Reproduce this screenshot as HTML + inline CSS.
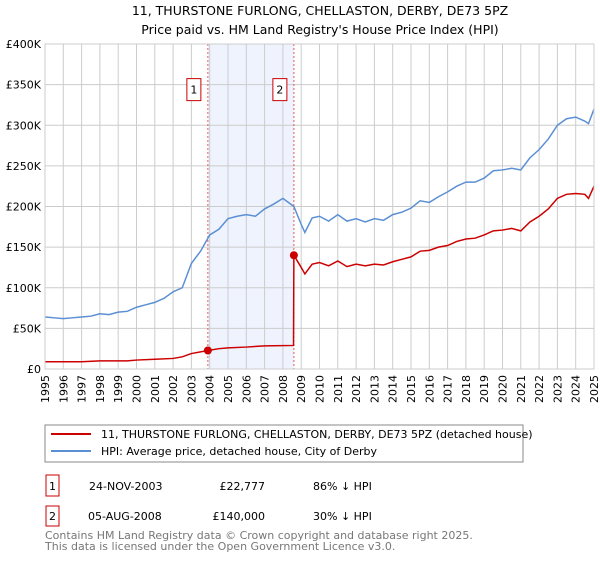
<!DOCTYPE html>
<html><head><meta charset="utf-8"><style>
body{margin:0;background:#fff;font-family:"Liberation Sans","DejaVu Sans",sans-serif;}
svg text{font-family:"DejaVu Sans","Liberation Sans",sans-serif;}
</style></head><body>
<svg id="chart" width="600" height="560" xmlns="http://www.w3.org/2000/svg">
<text x="320" y="15" text-anchor="middle" font-size="12.5">11, THURSTONE FURLONG, CHELLASTON, DERBY, DE73 5PZ</text>
<text x="320" y="34" text-anchor="middle" font-size="12.5">Price paid vs. HM Land Registry's House Price Index (HPI)</text>
<g id="grid"></g><g id="marks"></g>
<g>
<rect x="45" y="425" width="478" height="37" fill="#fff" stroke="#888"/>
<line x1="51" y1="434" x2="91" y2="434" stroke="#cc0000" stroke-width="2"/>
<text x="101" y="438" font-size="11">11, THURSTONE FURLONG, CHELLASTON, DERBY, DE73 5PZ (detached house)</text>
<line x1="51" y1="451" x2="91" y2="451" stroke="#5b8fd4" stroke-width="2"/>
<text x="101" y="455" font-size="11">HPI: Average price, detached house, City of Derby</text>
</g>
<g font-size="11">
<rect x="46" y="475" width="13" height="21" fill="#fff" stroke="#cc0000"/><text x="52.5" y="490" text-anchor="middle">1</text>
<text x="89" y="490">24-NOV-2003</text><text x="265" y="490" text-anchor="end">£22,777</text><text x="313" y="490">86% ↓ HPI</text>
<rect x="46" y="506" width="13" height="20" fill="#fff" stroke="#cc0000"/><text x="52.5" y="520" text-anchor="middle">2</text>
<text x="88" y="520">05-AUG-2008</text><text x="265" y="520" text-anchor="end">£140,000</text><text x="313" y="520">30% ↓ HPI</text>
</g>
<text x="45" y="539" font-size="11" fill="#777">Contains HM Land Registry data © Crown copyright and database right 2025.</text>
<text x="45" y="550" font-size="11" fill="#777">This data is licensed under the Open Government Licence v3.0.</text>
</svg>
<script>
const hpiYears=[1995,1995.5,1996,1996.5,1997,1997.5,1998,1998.5,1999,1999.5,2000,2000.5,2001,2001.5,2002,2002.5,2003,2003.5,2004,2004.5,2005,2005.5,2006,2006.5,2007,2007.5,2008,2008.6,2009,2009.2,2009.6,2010,2010.5,2011,2011.5,2012,2012.5,2013,2013.5,2014,2014.5,2015,2015.5,2016,2016.5,2017,2017.5,2018,2018.5,2019,2019.5,2020,2020.5,2021,2021.5,2022,2022.5,2023,2023.5,2024,2024.5,2024.7,2025];
const hpiValues=[64,63,62,63,64,65,68,67,70,71,76,79,82,87,95,100,130,145,165,172,185,188,190,188,197,203,210,200,178,168,186,188,182,190,182,185,181,185,183,190,193,198,207,205,212,218,225,230,230,235,244,245,247,245,260,270,283,300,308,310,305,302,320];
const ppYears=[1995,1997,1998,1999.5,2000,2001,2002,2002.5,2003,2003.9,2004.5,2005,2006,2007,2008.58,2008.6,2009,2009.2,2009.6,2010,2010.5,2011,2011.5,2012,2012.5,2013,2013.5,2014,2014.5,2015,2015.5,2016,2016.5,2017,2017.5,2018,2018.5,2019,2019.5,2020,2020.5,2021,2021.5,2022,2022.5,2023,2023.5,2024,2024.5,2024.7,2025];
const ppValues=[9,9,10,10,11,12,13,15,19,22.777,25,26,27,28.5,29,140,125,117,129,131,127,133,126,129,127,129,128,132,135,138,145,146,150,152,157,160,161,165,170,171,173,170,181,188,197,210,215,216,215,210,225];
const sales=[{t:2003.9,v:22.777,label:"1"},{t:2008.6,v:140,label:"2"}];
const yTicks=[0,50,100,150,200,250,300,350,400];
const yTickLabels=["£0","£50K","£100K","£150K","£200K","£250K","£300K","£350K","£400K"];
const xTicks=[];for(let y=1995;y<=2025;y++)xTicks.push(y);
const X0=45,X1=594,Y0=369,Y1=44;
const xs=t=>X0+(t-1995)/30*(X1-X0);
const ys=v=>Y0-v/400*(Y0-Y1);
const NS="http://www.w3.org/2000/svg";
const grid=document.getElementById('grid'),marks=document.getElementById('marks');
function mk(tag,attrs,parent){const e=document.createElementNS(NS,tag);for(const k in attrs)e.setAttribute(k,attrs[k]);parent.appendChild(e);return e;}
const shade=mk('rect',{x:xs(sales[0].t),y:Y1,width:xs(sales[1].t)-xs(sales[0].t),height:Y0-Y1,fill:'#eef3fd'},grid);


xTicks.forEach(t=>{
 const l=mk('line',{x1:xs(t),x2:xs(t),y1:Y1,y2:Y0,stroke:'#ccc'},grid);
 
 
 const tx=mk('text',{x:0,y:0,'font-size':11,'text-anchor':'end',transform:`translate(${xs(t)+4},${Y0+6}) rotate(-90)`},grid);
 tx.textContent=t;
 
 
});
yTicks.forEach((v,i)=>{
 const l=mk('line',{x1:X0,x2:X1,y1:ys(v),y2:ys(v),stroke:'#ccc'},grid);
 
 
 const tx=mk('text',{x:X0-4,y:ys(v)+4,'font-size':11,'text-anchor':'end'},grid);
 tx.textContent=yTickLabels[i];
 
 
});
sales.forEach(s=>{
 const l=mk('line',{x1:xs(s.t),x2:xs(s.t),y1:Y1,y2:Y0,stroke:'#e55','stroke-dasharray':'2,2'},marks);
 
 
 const b=mk('rect',{x:xs(s.t)-21,y:ys(350)-6,width:14,height:22,fill:'#fff',stroke:'#cc0000'},marks);
 
 
 const tx=mk('text',{x:xs(s.t)-14,y:ys(350)+9,'font-size':11,'text-anchor':'middle'},marks);
 tx.textContent=s.label;
 
 
});
const hp=mk('polyline',{points:hpiYears.map((t,i)=>xs(t)+','+ys(hpiValues[i])).join(' '),fill:'none',stroke:'#5b8fd4','stroke-width':1.5},marks);


const pp=mk('polyline',{points:ppYears.map((t,i)=>xs(t)+','+ys(ppValues[i])).join(' '),fill:'none',stroke:'#cc0000','stroke-width':1.5},marks);


sales.forEach(s=>{
 const c=mk('circle',{cx:xs(s.t),cy:ys(s.v),r:4,fill:'#cc0000'},marks);
 
 
});
mk('rect',{x:X0,y:Y1,width:X1-X0,height:Y0-Y1,fill:'none',stroke:'#ccc'},marks);
</script>
</body></html>
